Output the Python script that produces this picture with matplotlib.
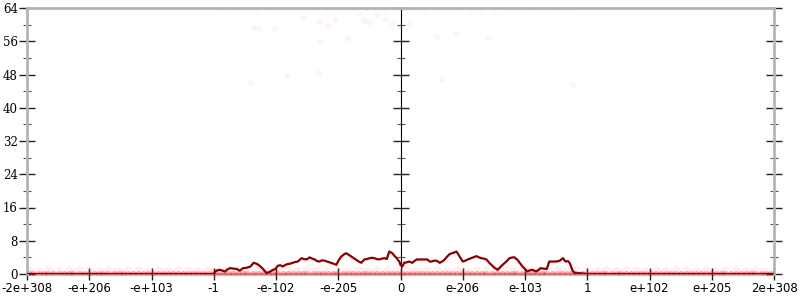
import matplotlib
matplotlib.use("Agg")
import matplotlib.pyplot as plt
from matplotlib.ticker import FixedLocator, MultipleLocator

# x axis: ordinal position of float bit pattern (-6 .. 6)
tick_pos = [-6, -5, -4, -3, -2, -1, 0, 1, 2, 3, 4, 5, 6]
tick_labels = ["-2e+308", "-e+206", "-e+103", "-1", "-e-102", "-e-205", "0",
               "e-206", "e-103", "1", "e+102", "e+205", "2e+308"]
y_ticks = [0, 8, 16, 24, 32, 40, 48, 56, 64]
y_labels = ["0", "8", "16", "24", "32", "40", "48", "56", "64"]

# moving-average curve (x in axis units, y values)
avg_x = [-6.0, -3.0, -2.98, -2.94, -2.9, -2.86, -2.82, -2.78, -2.74, -2.68, -2.63,
         -2.58, -2.53, -2.47, -2.41, -2.36, -2.32, -2.28, -2.22, -2.15, -2.09,
         -2.05, -2.01, -1.97, -1.93, -1.89, -1.85, -1.81, -1.77, -1.73, -1.69,
         -1.65, -1.59, -1.55, -1.51, -1.46, -1.42, -1.38, -1.34, -1.30, -1.26,
         -1.22, -1.18, -1.14, -1.08, -1.03, -0.99, -0.95, -0.91, -0.87, -0.83,
         -0.79, -0.75, -0.71, -0.67, -0.63, -0.58, -0.54, -0.50, -0.46, -0.42,
         -0.38, -0.34, -0.30, -0.26, -0.22, -0.18, -0.13, -0.10, -0.06, -0.02,
         0.0, 0.03, 0.06, 0.10, 0.14, 0.19, 0.23, 0.26, 0.31, 0.37, 0.43, 0.47,
         0.50, 0.54, 0.58, 0.63, 0.67, 0.71, 0.75, 0.79, 0.85, 0.90, 0.95, 1.00,
         1.04, 1.08, 1.15, 1.22, 1.26, 1.30, 1.34, 1.38, 1.42, 1.46, 1.51, 1.56,
         1.60, 1.64, 1.70, 1.75, 1.80, 1.83, 1.88, 1.92, 1.96, 2.00, 2.04, 2.08,
         2.12, 2.15, 2.18, 2.22, 2.25, 2.30, 2.35, 2.39, 2.45, 2.50, 2.56, 2.61,
         2.65, 2.69, 2.72, 2.77, 2.80, 2.83, 2.88, 3.0, 6.0]
avg_y = [0.0, 0.0, 0.6, 0.9, 1.0, 0.8, 0.6, 1.1, 1.4, 1.3, 1.2,
         0.8, 1.4, 1.5, 1.8, 2.7, 2.5, 2.2, 1.4, 0.2, 0.6,
         1.0, 1.2, 2.0, 2.1, 1.8, 2.2, 2.4, 2.5, 2.7, 2.9,
         3.0, 3.8, 3.6, 3.5, 4.0, 3.7, 3.5, 3.1, 3.0, 3.3,
         3.2, 3.0, 2.8, 2.5, 2.2, 3.4, 4.2, 4.7, 5.0, 4.6,
         4.2, 3.8, 3.4, 3.0, 2.7, 3.5, 3.6, 3.8, 3.9, 3.8,
         3.6, 3.5, 3.7, 3.8, 3.6, 5.4, 5.0, 4.4, 3.8, 3.0,
         2.2, 1.8, 2.7, 2.8, 3.0, 2.7, 3.2, 3.5, 3.5, 3.5, 3.5, 3.0,
         3.0, 3.2, 3.2, 2.7, 3.0, 3.5, 4.2, 4.8, 5.1, 5.4, 4.2, 3.0,
         3.2, 3.5, 3.9, 4.3, 4.0, 3.8, 3.7, 3.5, 2.8, 2.2, 1.5, 1.0,
         1.6, 2.2, 3.0, 3.8, 4.0, 4.0, 3.4, 2.6, 1.8, 1.2, 0.6, 0.9,
         1.0, 0.8, 0.6, 1.0, 1.4, 1.3, 1.2, 3.0, 3.0, 3.0, 3.2, 3.8,
         3.0, 3.1, 2.6, 0.6, 0.3, 0.2, 0.2, 0.0, 0.0]

# individual samples near the top
top_x = [-2.90, -2.75, -2.62, -2.45, -2.30, -2.15, -1.98, -1.80, -1.66, -1.50,
         -1.35, -1.20, -1.05, -0.88, -0.72, -0.55, -0.40, -0.25, -0.10, 0.05,
         0.22, 0.40, 0.58, 0.76, 0.95, 1.12, 1.30, 1.50, 1.70, 1.90, 2.10,
         2.30, 2.50, 2.68]
top_y = [64] * 34
mid_x = [-1.57, -1.31, -1.05, -0.66, -0.50, -0.38, -1.17, -0.59, -0.25, -0.14,
         -2.35, -2.27, -2.03, -1.29, -0.85, -2.42, -1.82, -1.33, 0.13, 0.58,
         0.89, 1.41, 0.67, 2.77]
mid_y = [61.6, 60.8, 61.0, 62.5, 60.7, 62.4, 59.6, 61.0, 61.4, 60.5,
         59.1, 59.1, 59.2, 55.7, 56.7, 45.9, 47.9, 48.3, 60.5, 57.0,
         57.8, 56.9, 46.9, 45.5]

# samples at the bottom
bot_x = [-5.97, -5.90, -5.81, -5.73, -5.66, -5.58, -5.49, -5.41, -5.33, -5.26,
         -5.17, -5.09, -5.01, -4.93, -4.85, -4.78, -4.70, -4.61, -4.53, -4.45,
         -4.37, -4.29, -4.21, -4.13, -4.06, -3.97, -3.89, -3.81, -3.74, -3.65,
         -3.57, -3.49, -3.42, -3.33, -3.25, -3.17, -3.09, -3.01, -2.94, -2.85,
         -2.77, -2.69, -2.61, -2.53, -2.46, -2.37, -2.29, -2.21, -2.13, -2.05,
         -1.98, -1.89, -1.81, -1.73, -1.65, -1.57, -1.50, -1.41, -1.33, -1.25,
         -1.17, -1.09, -1.02, -0.93, -0.85, -0.77, -0.69, -0.61, -0.54, -0.45,
         -0.37, -0.29, -0.21, -0.13, -0.06, 0.03, 0.11, 0.19, 0.27, 0.35,
         0.42, 0.51, 0.59, 0.67, 0.75, 0.83, 0.90, 0.99, 1.07, 1.15,
         1.23, 1.31, 1.38, 1.47, 1.55, 1.63, 1.71, 1.79, 1.86, 1.95,
         2.03, 2.11, 2.19, 2.27, 2.34, 2.43, 2.51, 2.59, 2.67, 2.75,
         2.82, 2.91, 2.99, 3.07, 3.15, 3.23, 3.30, 3.39, 3.47, 3.55,
         3.63, 3.71, 3.78, 3.87, 3.95, 4.03, 4.11, 4.19, 4.26, 4.35,
         4.43, 4.51, 4.59, 4.67, 4.74, 4.83, 4.91, 4.99, 5.07, 5.15,
         5.22, 5.31, 5.39, 5.47, 5.55, 5.63, 5.70, 5.79, 5.87, 5.95]
bot_y = [1.2, 0.4, 0.9, 0.2, 1.3, 0.6, 1.0, 0.3, 1.2, 0.7,
         1.1, 0.3, 1.3, 0.6, 0.9, 0.4, 1.2, 0.8, 1.0, 0.5,
         1.3, 0.3, 1.1, 0.6, 0.9, 0.4, 1.2, 0.7, 1.0, 0.5,
         1.3, 0.3, 1.1, 0.6, 0.9, 0.4, 1.2, 0.8, 1.0, 0.5,
         1.3, 0.3, 1.1, 0.6, 0.9, 0.4, 1.2, 0.7, 1.0, 0.5,
         1.3, 0.3, 1.1, 0.6, 0.9, 0.4, 1.2, 0.8, 1.0, 0.5,
         1.3, 0.3, 1.1, 0.6, 0.9, 0.4, 1.2, 0.7, 1.0, 0.5,
         1.3, 0.3, 1.1, 0.6, 0.9, 0.4, 1.2, 0.8, 1.0, 0.5,
         1.3, 0.3, 1.1, 0.6, 0.9, 0.4, 1.2, 0.7, 1.0, 0.5,
         1.3, 0.3, 1.1, 0.6, 0.9, 0.4, 1.2, 0.8, 1.0, 0.5,
         1.3, 0.3, 1.1, 0.6, 0.9, 0.4, 1.2, 0.7, 1.0, 0.5,
         1.3, 0.3, 1.1, 0.6, 0.9, 0.4, 1.2, 0.8, 1.0, 0.5,
         1.3, 0.3, 1.1, 0.6, 0.9, 0.4, 1.2, 0.7, 1.0, 0.5,
         1.3, 0.3, 1.1, 0.6, 0.9, 0.4, 1.2, 0.8, 1.0, 0.5,
         1.3, 0.3, 1.1, 0.6, 0.9, 0.4, 1.2, 0.7, 1.0, 0.5]
bot_zero = [0] * len(bot_x)

fig = plt.figure(figsize=(8, 3), dpi=100)
ax = fig.add_axes([27 / 800, 1 - 274 / 300, (774 - 27) / 800, (274 - 8) / 300])

grey = "#b4b4b4"
ax.scatter(bot_x, bot_y, s=24, color="#ff2020", alpha=0.07, linewidths=0, zorder=2)
ax.scatter(bot_x, bot_zero, s=24, color="#ff0000", alpha=0.3, linewidths=0, zorder=2)
ax.scatter(top_x, top_y, s=20, color="#ff3030", alpha=0.06, linewidths=0, zorder=2)
ax.scatter(mid_x, mid_y, s=20, color="#ff3030", alpha=0.05, linewidths=0, zorder=2)
ax.plot(avg_x, avg_y, color="#8b0000", lw=1.6, zorder=4, solid_joinstyle="round")

ax.set_xlim(-6, 6)
ax.set_ylim(0, 64)
for s in ax.spines.values():
    s.set_color(grey)
    s.set_linewidth(2)
ax.spines["bottom"].set_zorder(1)

ax.xaxis.set_major_locator(FixedLocator(tick_pos))
ax.set_xticklabels(tick_labels, fontsize=8.5, family="DejaVu Sans")
ax.tick_params(axis="x", direction="inout", length=8, width=1, color="#222222", pad=2)

ax.set_yticks(y_ticks, labels=y_labels, fontsize=8.5, family="DejaVu Serif")
ax.yaxis.set_minor_locator(MultipleLocator(4))
ax.tick_params(axis="y", which="major", direction="inout", length=11, width=1,
               color="#222222", pad=1, right=True)
ax.tick_params(axis="y", which="minor", direction="inout", length=6, width=0.8,
               color="#555555", right=True)

center = ax.secondary_yaxis(0.5)
center.spines["left"].set_color(grey)
center.spines["left"].set_linewidth(2)
center.set_yticks(y_ticks, labels=[""] * len(y_ticks))
center.yaxis.set_minor_locator(MultipleLocator(4))
center.tick_params(which="major", direction="inout", length=11, width=1, color="#222222",
                   labelleft=False, labelright=False)
center.tick_params(which="minor", direction="inout", length=6, width=0.8, color="#555555")

fig.savefig("out.png", dpi=100)
